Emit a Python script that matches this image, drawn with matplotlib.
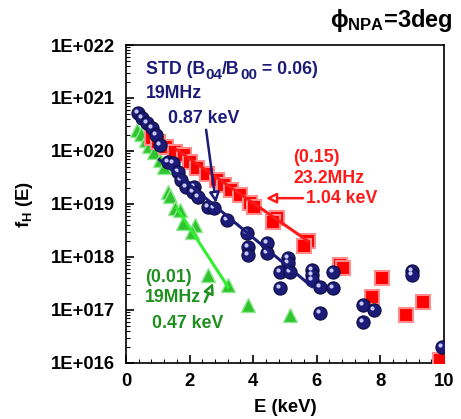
"""
Distribution fH(E) - phi_NPA = 3 deg : trois cas (STD, 0.15, 0.01)
Sortie : out.png
"""
import numpy as np
import matplotlib
matplotlib.use("Agg")
import matplotlib.pyplot as plt
from matplotlib.ticker import MultipleLocator, LogLocator, FixedFormatter, NullFormatter
import matplotlib.transforms as mtransforms

plt.rcParams["font.family"] = ["Liberation Sans", "DejaVu Sans"]
plt.rcParams["font.weight"] = "bold"
plt.rcParams["mathtext.fontset"] = "custom"
plt.rcParams["mathtext.rm"] = "Liberation Sans:bold"
plt.rcParams["mathtext.it"] = "Liberation Sans:bold"
plt.rcParams["mathtext.bf"] = "Liberation Sans:bold"

# %% donnees (E en keV, log10 fH)
std_E = [0.38, 0.50, 0.66, 0.82, 0.94, 1.07, 1.32, 1.48, 1.64, 1.73, 1.89, 2.14,
         2.11, 2.26, 2.58, 2.77, 3.18, 3.80, 3.84, 3.84, 4.43, 4.43, 5.09, 5.09,
         4.84, 5.16, 5.85, 5.85, 5.85, 4.84, 6.10, 6.51, 6.10, 6.51, 7.45, 7.80,
         7.45, 8.99, 8.99, 9.94]
std_logf = [20.72, 20.62, 20.53, 20.43, 20.30, 20.11, 19.79, 19.77, 19.60, 19.45,
            19.32, 19.32, 19.23, 19.13, 18.94, 18.92, 18.70, 18.45, 18.19, 18.04,
            18.26, 18.08, 17.98, 17.89, 17.72, 17.72, 17.75, 17.66, 17.57, 17.42,
            17.43, 17.42, 16.94, 17.72, 17.09, 17.00, 16.77, 17.74, 17.66, 16.30]

b15_E = [0.82, 1.01, 1.26, 1.54, 1.82, 2.01, 2.23, 2.55, 2.86, 3.08, 3.30, 3.58,
         3.90, 4.03, 4.75, 4.62, 5.72, 5.60, 6.73, 6.82, 8.05, 7.74, 9.34, 8.81, 9.87]
b15_logf = [20.25, 20.17, 20.08, 19.98, 19.92, 19.79, 19.68, 19.57, 19.45, 19.36,
            19.26, 19.17, 19.02, 18.94, 18.74, 18.66, 18.30, 18.21, 17.85, 17.79,
            17.60, 17.25, 17.15, 16.91, 16.06]

b01_E = [0.35, 0.47, 0.63, 0.72, 0.88, 1.07, 1.19, 1.32, 1.38, 1.54, 1.70, 1.79,
         2.17, 2.08, 2.58, 3.21, 3.84, 5.16]
b01_logf = [20.40, 20.32, 20.21, 20.09, 19.98, 19.83, 19.70, 19.23, 19.15, 18.92,
            18.89, 18.64, 18.60, 18.47, 17.66, 17.47, 17.09, 16.91]

# ajustements exponentiels : T (keV), log10 amplitude, plage en E
std_fit = (0.87, 20.36, 1.05, 5.85)
b15_fit = (1.04, 20.69, 1.6, 5.72)
b01_fit = (0.47, 20.40, 1.6, 3.21)

y_ticks = [1e16, 1e17, 1e18, 1e19, 1e20, 1e21, 1e22]
y_tick_labels = ["1E+016", "1E+017", "1E+018", "1E+019", "1E+020", "1E+021", "1E+022"]

NAVY = "#1c1c78"
RED = "#ff1a1a"
GREEN_TXT = "#1f8f1f"
GREEN_LINE = "#33ee33"


def fit_curve(params):
    T, logA, e0, e1 = params
    e = np.linspace(e0, e1, 50)
    return e, 10 ** (logA - np.log10(np.e) * e / T)


fig = plt.figure(figsize=(4.61, 4.19), dpi=100)
ax = fig.add_axes([0.2733, 0.1337, 0.6897, 0.7589])

hl = ax.transData + mtransforms.ScaledTranslation(-1.5 / 72, 1.5 / 72, fig.dpi_scale_trans)

# triangles verts
ax.plot(b01_E, np.power(10, b01_logf), "^", ms=10, mfc="#2fc42f", mec="#8fe88f",
        mew=1.0, ls="none", zorder=3)
# carres rouges
ax.plot(b15_E, np.power(10, b15_logf), "s", ms=10, mfc="#ff0000", mec="#ff8c8c",
        mew=1.5, ls="none", zorder=4)
# spheres bleues
ax.plot(std_E, np.power(10, std_logf), "o", ms=9.5, mfc=NAVY, mec="#0c0c40",
        mew=0.8, ls="none", zorder=5)
ax.plot(std_E, np.power(10, std_logf), "o", ms=3, mfc="#c8c8ff", mec="none",
        ls="none", zorder=5, transform=hl)

for params, col in [(std_fit, NAVY), (b15_fit, RED), (b01_fit, GREEN_LINE)]:
    e, f = fit_curve(params)
    ax.plot(e, f, "-", color=col, lw=2.2, zorder=6)

ax.set_yscale("log")
ax.set_xlim(0, 10)
ax.set_ylim(1e16, 1e22)
ax.xaxis.set_major_locator(MultipleLocator(2))
ax.xaxis.set_minor_locator(MultipleLocator(0.4))
ax.set_yticks(y_ticks)
ax.yaxis.set_major_formatter(FixedFormatter(y_tick_labels))
ax.yaxis.set_minor_locator(LogLocator(base=10, subs=np.arange(2, 10), numticks=20))
ax.yaxis.set_minor_formatter(NullFormatter())
ax.tick_params(which="both", direction="in", top=False, right=False)
ax.tick_params(which="major", length=6, width=1.2, labelsize=13.3)
ax.tick_params(axis="x", which="major", pad=7)
ax.tick_params(axis="y", which="major", pad=8)
ax.tick_params(which="minor", length=3, width=0.8)
for lab in ax.get_xticklabels() + ax.get_yticklabels():
    lab.set_fontweight("bold")
for sp in ax.spines.values():
    sp.set_linewidth(1.2)

ax.set_xlabel("E (keV)", fontsize=13.3, fontweight="bold", labelpad=7)
ax.set_ylabel(r"f$_{\mathrm{H}}$ (E)", fontsize=13.3, fontweight="bold", labelpad=11)

fig.text(0.982, 0.952, r"$\phi_{\mathrm{NPA}}$=3deg", ha="right", va="center",
         fontsize=17, fontweight="bold")

# annotations
FS = 12.8
txt = dict(fontsize=FS, fontweight="bold", va="center", ha="left")

# ligne STD avec indices a la main (indices presque pleine taille)
renderer = fig.canvas.get_renderer()
pieces = [("STD (B", False), ("04", True), ("/B", False), ("00", True), (" = 0.06)", False)]
x_off = 0.0
for s, sub in pieces:
    tr = ax.transData + mtransforms.ScaledTranslation(x_off / 72, (-3.5 if sub else 0) / 72,
                                                      fig.dpi_scale_trans)
    t = ax.text(0.63, 10 ** 21.53, s, color=NAVY, fontsize=FS * (0.85 if sub else 1),
                fontweight="bold", va="center", ha="left", transform=tr)
    w = t.get_window_extent(renderer).width
    x_off += w * 72 / fig.dpi

ax.text(0.63, 10 ** 21.09, "19MHz", color=NAVY, **txt)
ax.text(1.32, 10 ** 20.62, "0.87 keV", color=NAVY, **txt)
ax.text(5.25, 10 ** 19.87, "(0.15)", color=RED, **txt)
ax.text(5.25, 10 ** 19.49, "23.2MHz", color=RED, **txt)
ax.text(5.66, 10 ** 19.11, "1.04 keV", color=RED, **txt)
ax.text(0.60, 10 ** 17.62, "(0.01)", color=GREEN_TXT, **txt)
ax.text(0.60, 10 ** 17.23, "19MHz", color=GREEN_TXT, **txt)
ax.text(0.82, 10 ** 16.75, "0.47 keV", color=GREEN_TXT, **txt)

arrows = [((2.52, 20.40), (2.83, 19.02), NAVY),
          ((5.57, 19.11), (4.40, 19.11), RED),
          ((2.48, 17.15), (2.74, 17.51), "#1f8f1f")]
for (x0, y0), (x1, y1), col in arrows:
    ax.annotate("", xy=(x1, 10 ** y1), xytext=(x0, 10 ** y0),
                arrowprops=dict(arrowstyle="-|>,head_length=0.6,head_width=0.3",
                                fc="white", ec=col, lw=1.8, shrinkA=0, shrinkB=0),
                zorder=7)

fig.savefig("out.png", dpi=100)
